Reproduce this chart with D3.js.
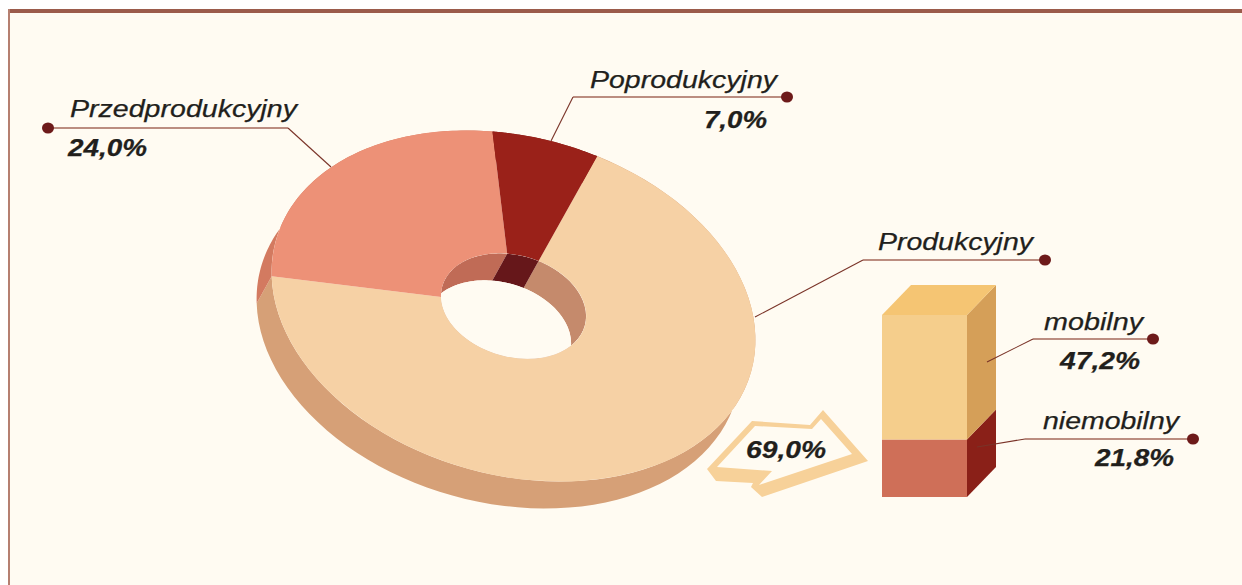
<!DOCTYPE html>
<html>
<head>
<meta charset="utf-8">
<script src="https://cdn.jsdelivr.net/npm/d3@7"></script>
<style>
  html, body { margin: 0; padding: 0; background: #fff; }
  svg { display: block; }
  text { font-family: "Liberation Sans", Arial, sans-serif; font-style: italic; fill: #221f1c; stroke: #221f1c; stroke-width: 0.25; }
</style>
</head>
<body>
<div id="chart"></div>
<script>
// data
const phases = ["Produkcyjny", "Przedprodukcyjny", "Poprodukcyjny"];
const phaseValues = [69.0, 24.0, 7.0];
const phaseLabels = ["", "24,0%", "7,0%"];
const topColors = ["#f6d1a5", "#ed9177", "#9a2119"];
const wallColors = ["#d6a077", "#d37a60", "#7a1a14"];
const holeColors = ["#c58a6c", "#c06b56", "#66171a"];

const stackNames = ["niemobilny", "mobilny"];
const stackValues = [21.8, 47.2];
const stackLabels = ["21,8%", "47,2%"];
const stackFront = ["#cf6f58", "#f5ce8c"];
const stackSide = ["#8a2018", "#d59f58"];
const stackTop = "#f5c573";
const arrowLabel = "69,0%";

const width = 1242, height = 585;
const bg = "#fffbf2";

const svg = d3.select("#chart").append("svg")
    .attr("width", width).attr("height", height);

// frame
svg.append("rect").attr("x", 8).attr("y", 10).attr("width", width - 8).attr("height", height - 10).attr("fill", bg);
svg.append("rect").attr("x", 8).attr("y", 9).attr("width", width - 8).attr("height", 4).attr("fill", "#9b5b4b");
svg.append("rect").attr("x", 8).attr("y", 9).attr("width", 2).attr("height", height - 9).attr("fill", "#b57f70");

// the donut is a flat unit disc pushed through a tilted ellipse
const cx = 513.5, cy = 306, rx = 246.5, ry = 169, tilt = 15.3 * Math.PI / 180;
const depth = {x: -15, y: 27};
const holeRatio = 0.3;
const m = {
    a: rx * Math.cos(tilt), b: rx * Math.sin(tilt),
    c: -ry * Math.sin(tilt), d: ry * Math.cos(tilt)
};
const discMatrix = (dx, dy) => `matrix(${m.a},${m.b},${m.c},${m.d},${cx + dx},${cy + dy})`;

// same angle convention as d3.arc: 0 at 12 o'clock, clockwise
function project(angle, r, dx, dy){
    const u = r * Math.sin(angle), v = -r * Math.cos(angle);
    return [cx + dx + m.a * u + m.c * v, cy + dy + m.b * u + m.d * v];
}

const pieStart = 9.6 * Math.PI / 180;
const arcs = d3.pie().sort(null).startAngle(pieStart).endAngle(pieStart + 2 * Math.PI)(phaseValues);
const line = d3.line();

function wallPath(d, r){
    const n = 80;
    const angles = d3.range(n + 1).map(i => d.startAngle + (d.endAngle - d.startAngle) * i / n);
    const near = angles.map(a => project(a, r, 0, 0));
    const far = angles.slice().reverse().map(a => project(a, r, depth.x, depth.y));
    return line(near.concat(far)) + "Z";
}

// outer walls
svg.append("g").selectAll("path").data(arcs).join("path")
    .attr("d", d => wallPath(d, 1))
    .attr("fill", (d, i) => wallColors[i]);

// top faces
const topArc = d3.arc().innerRadius(holeRatio).outerRadius(1);
svg.append("g").selectAll("path").data(arcs).join("path")
    .attr("d", topArc)
    .attr("transform", discMatrix(0, 0))
    .attr("fill", (d, i) => topColors[i]);

// hole: inner walls and the see-through part, all clipped by the top opening
const holeArc = d3.arc().innerRadius(0).outerRadius(holeRatio).startAngle(0).endAngle(2 * Math.PI);
svg.append("clipPath").attr("id", "holeClip").append("path")
    .attr("d", holeArc()).attr("transform", discMatrix(0, 0));
const holeG = svg.append("g").attr("clip-path", "url(#holeClip)");
holeG.selectAll("path.wall").data(arcs).join("path")
    .attr("class", "wall")
    .attr("d", d => wallPath(d, holeRatio))
    .attr("fill", (d, i) => holeColors[i]);
holeG.append("path")
    .attr("d", holeArc())
    .attr("transform", discMatrix(depth.x, depth.y))
    .attr("fill", bg);

// stacked box
const boxX = d3.scaleBand().domain(["total"]).range([882, 967]);
const boxY = d3.scaleLinear().domain([0, d3.sum(stackValues)]).range([497, 315]);
const boxDepth = {x: 29, y: -30};
const stacked = d3.cumsum(stackValues);
const x0 = boxX("total"), x1 = x0 + boxX.bandwidth();
const boxG = svg.append("g");
stackValues.forEach((v, i) => {
    const yBottom = boxY(stacked[i] - v), yTop = boxY(stacked[i]);
    boxG.append("rect")
        .attr("x", x0).attr("y", yTop)
        .attr("width", x1 - x0).attr("height", yBottom - yTop)
        .attr("fill", stackFront[i]);
    boxG.append("path")
        .attr("d", line([[x1, yBottom], [x1 + boxDepth.x, yBottom + boxDepth.y], [x1 + boxDepth.x, yTop + boxDepth.y], [x1, yTop]]) + "Z")
        .attr("fill", stackSide[i]);
});
const boxTop = boxY(d3.sum(stackValues));
boxG.append("path")
    .attr("d", line([[x0, boxTop], [x1, boxTop], [x1 + boxDepth.x, boxTop + boxDepth.y], [x0 + boxDepth.x, boxTop + boxDepth.y]]) + "Z")
    .attr("fill", stackTop);

// outlined arrow
const arrowOuter = [[707,469],[752,421],[810,425],[823,410],[868,461],[762,497],[751,487],[753,483],[716,481]];
const arrowInner = [[717,467],[755,426],[812,429],[821,419],[852,454],[759,485],[772,471]];
svg.append("path")
    .attr("d", line(arrowOuter) + "Z" + line(arrowInner) + "Z")
    .attr("fill", "#f7d199")
    .attr("fill-rule", "evenodd");

// leader lines: dot, horizontal run, slanted run
const leaders = [
    {dot: [48, 128], knee: [288, 128], end: [331, 167]},
    {dot: [787, 97], knee: [573, 97], end: [551, 141]},
    {dot: [1045, 260], knee: [863, 260], end: [755, 317]},
    {dot: [1153, 339], knee: [1033, 339], end: [987, 362]},
    {dot: [1193, 439], knee: [1025, 439], end: [977, 447]}
];
const leaderG = svg.append("g");
leaders.forEach(l => {
    leaderG.append("path").attr("d", line([l.dot, l.knee])).attr("fill", "none")
        .attr("stroke", "#a5695a").attr("stroke-width", 1.5);
    leaderG.append("path").attr("d", line([l.knee, l.end])).attr("fill", "none")
        .attr("stroke", "#7a3328").attr("stroke-width", 1.1);
    leaderG.append("ellipse").attr("cx", l.dot[0]).attr("cy", l.dot[1]).attr("rx", 6).attr("ry", 5.5)
        .attr("fill", "#6d1a1a");
});

// labels, stretched to the widths seen in the picture
function label(txt, x, x2, y, bold){
    svg.append("text")
        .attr("x", x).attr("y", y)
        .attr("font-size", 24)
        .attr("font-weight", bold ? "bold" : "normal")
        .attr("textLength", x2 - x)
        .attr("lengthAdjust", "spacingAndGlyphs")
        .text(txt);
}
label(phases[1], 70, 297, 117, false);
label(phaseLabels[1], 68, 147, 156, true);
label(phases[2], 590, 777, 88, false);
label(phaseLabels[2], 704, 767, 128, true);
label(phases[0], 878, 1033, 250, false);
label(stackNames[1], 1044, 1143, 330, false);
label(stackLabels[1], 1060, 1140, 369, true);
label(stackNames[0], 1043, 1179, 429, false);
label(stackLabels[0], 1095, 1174, 466, true);
label(arrowLabel, 746, 826, 458, true);
</script>
</body>
</html>
